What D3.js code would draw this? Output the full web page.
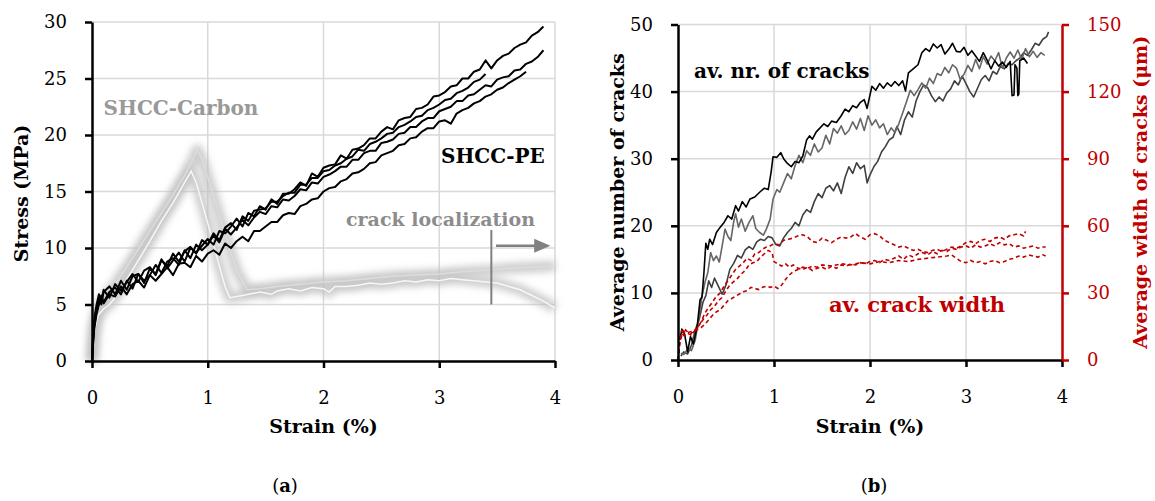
<!DOCTYPE html>
<html lang="en">
<head>
<meta charset="UTF-8">
<title>SHCC stress-strain and crack development</title>
<script src="https://d3js.org/d3.v7.min.js"></script>
<style>
  body { margin: 0; background: #fff; }
  svg { display: block; font-family: "DejaVu Serif", serif; }
</style>
</head>
<body>
<svg id="chart" width="1155" height="501"></svg>
<script>
// ---------- data (a): stress-strain ----------
const strainTicks = [0, 1, 2, 3, 4];
const stressTicks = [0, 5, 10, 15, 20, 25, 30];

const peStrain = [0, 0.01, 0.02, 0.04, 0.06, 0.08, 0.1, 0.15, 0.2, 0.25, 0.3, 0.35, 0.4, 0.45, 0.5, 0.55,
  0.6, 0.65, 0.7, 0.75, 0.8, 0.85, 0.9, 0.95, 1.0, 1.05, 1.1, 1.15, 1.2, 1.25, 1.3, 1.35, 1.4, 1.45,
  1.5, 1.55, 1.6, 1.65, 1.7, 1.75, 1.8, 1.85, 1.9, 1.95, 2.0, 2.05, 2.1, 2.15, 2.2, 2.25, 2.3, 2.35,
  2.4, 2.45, 2.5, 2.55, 2.6, 2.65, 2.7, 2.75, 2.8, 2.85, 2.9, 2.95, 3.0, 3.05, 3.1, 3.15, 3.2, 3.25,
  3.3, 3.35, 3.4, 3.45, 3.5, 3.55, 3.6, 3.65, 3.7, 3.75, 3.8, 3.85, 3.9];

const peA = [0, 2.0, 3.4, 4.6, 5.6, 5.0, 6.1, 6.6, 5.9, 7.1, 6.3, 7.5, 7.7, 6.9, 8.2, 7.7,
  9.0, 8.2, 8.9, 9.6, 8.8, 10.0, 9.6, 10.2, 10.8, 10.3, 11.5, 11.3, 11.9, 12.6, 11.9, 13.1, 12.8, 13.7,
  13.4, 14.3, 13.9, 14.8, 14.8, 15.2, 15.8, 15.5, 16.6, 16.3, 17.1, 17.3, 17.4, 18.2, 17.9, 18.7, 18.8, 19.1,
  19.7, 19.7, 20.3, 20.7, 20.5, 21.3, 21.5, 21.6, 22.3, 22.4, 22.7, 23.4, 23.5, 23.8, 24.3, 24.4, 25.0, 25.0,
  25.6, 25.8, 26.6, 25.9, 26.6, 27.0, 27.2, 27.7, 28.0, 28.2, 28.8, 29.1, 29.6];

const peB = [0, 1.6, 2.9, 4.2, 5.0, 5.8, 5.2, 6.1, 6.5, 5.9, 7.1, 6.4, 7.7, 7.1, 7.6, 8.5,
  7.8, 8.8, 9.1, 8.5, 9.8, 9.1, 10.3, 9.8, 10.3, 11.1, 10.5, 11.7, 11.2, 11.8, 12.5, 12.0, 12.7, 13.2,
  13.0, 13.7, 13.6, 14.3, 14.2, 14.6, 15.2, 15.1, 15.8, 15.7, 16.3, 16.5, 16.8, 17.2, 17.2, 17.8, 17.8, 18.4,
  18.6, 18.6, 19.3, 19.4, 19.6, 20.1, 20.2, 20.7, 20.7, 21.2, 21.5, 21.5, 22.1, 22.3, 22.5, 23.0, 23.0, 23.5,
  23.6, 24.0, 24.4, 24.3, 24.9, 25.1, 25.2, 25.7, 25.8, 26.3, 26.5, 26.9, 27.5];

const peC = [0, 2.4, 3.8, 5.0, 5.9, 5.2, 6.3, 5.6, 6.8, 6.2, 7.0, 7.7, 7.0, 8.0, 8.3, 7.6,
  8.9, 8.4, 9.5, 8.8, 9.7, 10.1, 9.5, 10.7, 10.3, 11.3, 10.7, 11.8, 12.2, 11.6, 12.8, 12.4, 13.3, 13.4,
  13.5, 14.1, 14.1, 14.6, 14.9, 14.9, 15.6, 15.6, 16.2, 16.2, 16.8, 16.9, 17.3, 17.5, 17.9, 18.1, 18.7, 18.6,
  19.2, 19.4, 19.7, 20.1, 20.2, 20.7, 20.9, 21.2, 21.6, 21.7, 22.2, 22.4, 22.7, 23.1, 23.2, 23.7, 23.9, 24.2,
  24.7, 24.9, 25.4];

const peD = [0, 1.8, 3.1, 4.4, 5.1, 5.7, 5.1, 5.9, 5.7, 6.6, 5.9, 6.8, 7.1, 6.5, 7.6, 7.1,
  7.7, 8.3, 7.6, 8.6, 8.7, 8.3, 9.3, 8.8, 9.5, 9.8, 9.4, 10.4, 10.0, 10.6, 11.0, 10.6, 11.5, 11.5,
  11.9, 12.3, 12.3, 12.9, 13.1, 13.0, 13.7, 13.9, 14.3, 14.4, 15.0, 15.3, 15.4, 15.9, 16.1, 16.6, 16.7, 17.0,
  17.5, 17.6, 18.2, 18.4, 18.6, 19.1, 19.2, 19.7, 19.8, 20.3, 20.6, 20.6, 21.2, 21.3, 21.0, 21.9, 22.2, 22.4,
  22.8, 23.0, 23.4, 23.6, 24.0, 24.2, 24.6, 24.9, 25.2, 25.6];

// SHCC-Carbon, [strain, stress]
const carbon1 = [[0, 0], [0.02, 3.0], [0.05, 4.6], [0.1, 5.4], [0.2, 6.8], [0.3, 8.3], [0.4, 9.9], [0.5, 11.5],
  [0.6, 13.1], [0.7, 14.7], [0.8, 16.4], [0.86, 17.6], [0.91, 18.7], [0.96, 17.6], [1.05, 14.6], [1.15, 11.2],
  [1.25, 8.0], [1.34, 6.3], [1.45, 6.4], [1.6, 6.6], [1.8, 6.8], [2.0, 7.0], [2.2, 7.1], [2.4, 7.3], [2.6, 7.5],
  [2.8, 7.6], [3.0, 7.7], [3.2, 7.9], [3.4, 8.0], [3.6, 8.2], [3.8, 8.3], [4.0, 8.4]];

const carbon2 = [[0, 0], [0.02, 2.6], [0.05, 4.0], [0.1, 4.6], [0.15, 5.0], [0.2, 5.6], [0.3, 7.2], [0.4, 8.9],
  [0.5, 10.6], [0.6, 12.4], [0.7, 14.0], [0.8, 15.8], [0.857, 16.8], [0.9, 15.8], [0.95, 14.0], [1.0, 12.2],
  [1.05, 10.3], [1.1, 8.4], [1.15, 6.6], [1.19, 5.6], [1.3, 5.8], [1.45, 6.1], [1.55, 5.9], [1.6, 6.2],
  [1.7, 6.4], [1.8, 6.2], [1.9, 6.5], [2.0, 6.4], [2.05, 6.1], [2.1, 6.6], [2.2, 6.6], [2.3, 6.7], [2.4, 6.9],
  [2.5, 6.8], [2.6, 6.9], [2.7, 7.1], [2.8, 7.0], [2.9, 7.2], [3.0, 7.1], [3.1, 7.3], [3.2, 7.2], [3.3, 7.1],
  [3.4, 7.0], [3.5, 6.9], [3.6, 6.6], [3.7, 6.3], [3.8, 5.8], [3.9, 5.3], [4.0, 4.7]];

// ---------- data (b): number and width of cracks ----------
const crackTicks = [0, 10, 20, 30, 40, 50];
const widthTicks = [0, 30, 60, 90, 120, 150];

// [strain, number of cracks]
const cracks1 = [[0.02, 3.0], [0.04, 4.6], [0.07, 3.8], [0.1, 1.2], [0.13, 3.5], [0.16, 2.4], [0.2, 5.0],
  [0.23, 9.0], [0.25, 9.4], [0.27, 13], [0.29, 17.4], [0.31, 16.5], [0.33, 18.0], [0.36, 17.2], [0.4, 19.0],
  [0.44, 19.8], [0.48, 20.5], [0.52, 21.5], [0.56, 21.0], [0.6, 23.0], [0.63, 22.2], [0.67, 23.6], [0.71, 22.8],
  [0.75, 24.0], [0.8, 24.3], [0.85, 25.0], [0.9, 25.6], [0.94, 25.4], [0.97, 28.0], [0.99, 30.3], [1.03, 30.2],
  [1.07, 30.9], [1.1, 30.0], [1.14, 29.3], [1.18, 28.8], [1.22, 29.6], [1.26, 29.4], [1.3, 30.4], [1.34, 32.8],
  [1.37, 33.4], [1.4, 32.9], [1.44, 34.0], [1.48, 34.6], [1.52, 35.2], [1.56, 34.8], [1.6, 35.6], [1.65, 35.4],
  [1.7, 36.4], [1.74, 37.4], [1.78, 37.0], [1.82, 37.9], [1.86, 37.6], [1.9, 38.4], [1.94, 38.8], [1.97, 37.5],
  [2.0, 39.5], [2.02, 40.8], [2.06, 40.2], [2.1, 41.2], [2.14, 40.5], [2.18, 41.3], [2.22, 40.8], [2.26, 41.5],
  [2.3, 40.9], [2.34, 41.6], [2.37, 40.1], [2.4, 42.8], [2.45, 43.4], [2.5, 44.0], [2.54, 45.8], [2.58, 46.4],
  [2.62, 46.0], [2.66, 47.1], [2.7, 46.5], [2.74, 47.0], [2.78, 45.6], [2.82, 46.3], [2.86, 47.2], [2.9, 46.0],
  [2.94, 45.9], [2.98, 46.6], [3.02, 45.4], [3.06, 46.1], [3.1, 45.3], [3.14, 44.5], [3.18, 45.8], [3.22, 44.7],
  [3.26, 43.4], [3.3, 44.6], [3.34, 43.8], [3.38, 44.4], [3.42, 43.6], [3.46, 44.5], [3.48, 39.4], [3.5, 39.5],
  [3.51, 44.0], [3.53, 43.5], [3.54, 39.4], [3.55, 39.6], [3.56, 44.6], [3.6, 45.0], [3.64, 44.2]];

const cracks2 = [[0.03, 1.0], [0.06, 0.8], [0.1, 1.6], [0.14, 1.4], [0.18, 3.0], [0.22, 6.5], [0.25, 9.5],
  [0.28, 11.5], [0.31, 13.0], [0.34, 16.0], [0.37, 14.8], [0.4, 15.5], [0.43, 14.6], [0.46, 17.0], [0.49, 19.5],
  [0.52, 18.4], [0.55, 17.8], [0.58, 20.6], [0.6, 21.8], [0.63, 19.8], [0.66, 21.0], [0.7, 19.2], [0.74, 20.5],
  [0.78, 21.5], [0.81, 19.6], [0.85, 19.0], [0.89, 18.6], [0.92, 19.5], [0.96, 21.0], [0.99, 24.0], [1.03, 25.4],
  [1.06, 25.0], [1.1, 26.4], [1.14, 27.8], [1.18, 27.0], [1.22, 29.0], [1.26, 30.5], [1.3, 29.4], [1.34, 31.2],
  [1.38, 30.5], [1.42, 32.2], [1.46, 31.0], [1.5, 31.6], [1.54, 33.5], [1.58, 32.2], [1.62, 34.5], [1.66, 33.8],
  [1.7, 34.9], [1.74, 33.6], [1.78, 34.2], [1.82, 35.5], [1.86, 34.4], [1.9, 36.0], [1.94, 34.2], [1.98, 36.4],
  [2.02, 35.0], [2.06, 35.8], [2.1, 34.6], [2.14, 35.2], [2.18, 33.6], [2.22, 34.6], [2.26, 33.9], [2.3, 35.2],
  [2.34, 36.8], [2.38, 38.5], [2.42, 40.2], [2.46, 39.4], [2.5, 40.3], [2.54, 41.3], [2.58, 40.5], [2.62, 42.0],
  [2.66, 41.2], [2.7, 42.7], [2.74, 42.4], [2.78, 43.6], [2.82, 42.8], [2.86, 44.0], [2.9, 43.5], [2.94, 41.8],
  [2.98, 42.6], [3.02, 43.9], [3.06, 43.0], [3.1, 44.8], [3.14, 43.4], [3.18, 45.2], [3.22, 44.1], [3.26, 45.3],
  [3.3, 44.6], [3.34, 45.8], [3.38, 43.5], [3.42, 45.0], [3.46, 45.9], [3.5, 45.0], [3.54, 46.2], [3.58, 44.8],
  [3.62, 46.4], [3.66, 45.2], [3.7, 46.0], [3.74, 45.1], [3.78, 45.8], [3.82, 45.4]];

const cracks3 = [[0.03, 0.6], [0.06, 1.2], [0.1, 0.9], [0.14, 2.2], [0.18, 4.5], [0.22, 6.0], [0.26, 8.6],
  [0.29, 9.6], [0.32, 11.8], [0.35, 10.8], [0.38, 12.2], [0.42, 11.0], [0.46, 9.8], [0.5, 11.2], [0.54, 13.5],
  [0.58, 14.4], [0.62, 15.6], [0.66, 15.2], [0.7, 16.4], [0.74, 16.9], [0.78, 16.5], [0.82, 17.6], [0.86, 18.0],
  [0.9, 17.8], [0.94, 18.4], [0.98, 18.2], [1.02, 17.2], [1.06, 17.0], [1.1, 18.2], [1.14, 19.0], [1.18, 19.6],
  [1.22, 20.5], [1.26, 20.0], [1.3, 21.6], [1.34, 22.4], [1.38, 22.0], [1.42, 23.6], [1.46, 24.8], [1.5, 24.2],
  [1.54, 25.6], [1.58, 26.0], [1.62, 25.2], [1.66, 26.4], [1.7, 24.8], [1.74, 27.2], [1.78, 28.8], [1.82, 27.8],
  [1.86, 29.4], [1.9, 28.5], [1.94, 29.0], [1.97, 26.4], [2.0, 27.6], [2.04, 28.8], [2.08, 29.6], [2.12, 31.0],
  [2.16, 31.8], [2.2, 32.8], [2.24, 33.2], [2.28, 34.8], [2.32, 33.6], [2.36, 35.8], [2.4, 37.0], [2.44, 36.2],
  [2.48, 38.6], [2.52, 40.0], [2.56, 41.0], [2.6, 40.6], [2.64, 39.4], [2.68, 38.5], [2.72, 39.2], [2.76, 38.6],
  [2.8, 39.8], [2.84, 40.4], [2.88, 41.6], [2.92, 41.0], [2.96, 42.3], [3.0, 41.2], [3.04, 40.0], [3.08, 39.2],
  [3.12, 40.5], [3.16, 41.8], [3.2, 42.4], [3.24, 41.6], [3.28, 43.0], [3.32, 42.6], [3.36, 43.8], [3.4, 43.4],
  [3.44, 44.2], [3.48, 44.0], [3.52, 44.6], [3.56, 45.0], [3.6, 45.8], [3.64, 45.4], [3.68, 46.2], [3.72, 47.2],
  [3.76, 46.9], [3.8, 47.8], [3.84, 48.2], [3.86, 48.9]];

// [strain, crack width in um]
const width1 = [[0, 0], [0.02, 10], [0.04, 13], [0.06, 12], [0.08, 13.5], [0.1, 12.5], [0.13, 11.5], [0.16, 13.0],
  [0.2, 14.0], [0.24, 17.0], [0.28, 21.0], [0.32, 23.5], [0.36, 26.0], [0.4, 28.5], [0.44, 30.0], [0.48, 33.0],
  [0.52, 35.5], [0.56, 38.0], [0.6, 40.5], [0.64, 42.0], [0.68, 43.5], [0.72, 45.5], [0.76, 44.5], [0.8, 47.5],
  [0.84, 48.0], [0.88, 49.5], [0.92, 50.5], [0.96, 51.0], [1.0, 52.0], [1.05, 51.5], [1.1, 53.5], [1.15, 54.0],
  [1.2, 54.5], [1.25, 55.5], [1.3, 56.0], [1.35, 55.0], [1.4, 53.0], [1.45, 52.5], [1.5, 54.5], [1.55, 53.5],
  [1.6, 52.5], [1.65, 54.0], [1.7, 55.0], [1.75, 54.5], [1.8, 55.0], [1.85, 56.5], [1.9, 55.0], [1.95, 54.0],
  [2.0, 56.0], [2.05, 56.5], [2.1, 55.5], [2.15, 53.5], [2.2, 52.5], [2.25, 51.5], [2.3, 50.5], [2.35, 51.0],
  [2.4, 50.0], [2.45, 49.0], [2.5, 49.5], [2.55, 48.5], [2.6, 48.0], [2.65, 49.0], [2.7, 49.5], [2.75, 48.5],
  [2.8, 49.5], [2.85, 50.5], [2.9, 50.0], [2.95, 51.0], [3.0, 52.5], [3.05, 53.0], [3.1, 52.0], [3.15, 53.5],
  [3.2, 54.0], [3.25, 53.0], [3.3, 54.5], [3.35, 55.0], [3.4, 54.0], [3.45, 55.5], [3.5, 56.0], [3.55, 56.5],
  [3.6, 55.5], [3.62, 57.5]];

const width2 = [[0, 0], [0.02, 9], [0.04, 12], [0.06, 11], [0.1, 12], [0.14, 11], [0.18, 13.5], [0.22, 15.5],
  [0.26, 18.0], [0.3, 20.0], [0.34, 22.5], [0.38, 24.0], [0.42, 26.5], [0.46, 28.0], [0.5, 31.0], [0.54, 33.5],
  [0.58, 35.0], [0.62, 36.5], [0.66, 38.5], [0.7, 40.0], [0.74, 42.5], [0.78, 43.5], [0.82, 44.0], [0.86, 46.0],
  [0.9, 47.5], [0.94, 49.0], [0.98, 48.0], [1.0, 44.0], [1.04, 43.0], [1.08, 42.0], [1.12, 43.0], [1.16, 41.5],
  [1.2, 42.5], [1.25, 41.0], [1.3, 40.5], [1.35, 41.5], [1.4, 40.0], [1.45, 41.0], [1.5, 41.5], [1.55, 40.5],
  [1.6, 42.0], [1.65, 41.0], [1.7, 42.5], [1.75, 42.0], [1.8, 43.0], [1.85, 42.5], [1.9, 43.5], [1.95, 43.0],
  [2.0, 44.0], [2.05, 44.5], [2.1, 43.5], [2.15, 45.0], [2.2, 44.5], [2.25, 45.5], [2.3, 46.5], [2.35, 45.0],
  [2.4, 47.0], [2.45, 46.0], [2.5, 47.5], [2.55, 48.0], [2.6, 47.0], [2.65, 48.5], [2.7, 47.5], [2.75, 49.0],
  [2.8, 48.5], [2.85, 50.0], [2.9, 49.5], [2.95, 50.5], [3.0, 51.0], [3.05, 50.0], [3.1, 51.5], [3.15, 50.5],
  [3.2, 51.0], [3.25, 52.0], [3.3, 51.0], [3.35, 52.5], [3.4, 51.5], [3.45, 52.0], [3.5, 50.5], [3.55, 51.0],
  [3.6, 50.0], [3.65, 50.5], [3.7, 51.0], [3.75, 50.0], [3.8, 50.5], [3.83, 50.5]];

const width3 = [[0, 0], [0.02, 8], [0.04, 11], [0.06, 13], [0.08, 12], [0.12, 12.5], [0.16, 13.0], [0.2, 13.5],
  [0.24, 14.5], [0.28, 16.0], [0.32, 18.0], [0.36, 20.0], [0.4, 21.5], [0.44, 22.5], [0.48, 24.5], [0.52, 26.5],
  [0.56, 27.5], [0.6, 28.5], [0.64, 29.5], [0.68, 30.5], [0.72, 31.0], [0.76, 32.5], [0.8, 32.0], [0.84, 31.5],
  [0.88, 32.5], [0.92, 33.0], [0.96, 32.5], [1.0, 33.0], [1.04, 32.0], [1.08, 33.5], [1.12, 36.0], [1.16, 38.0],
  [1.2, 39.5], [1.25, 40.5], [1.3, 41.5], [1.35, 41.0], [1.4, 42.0], [1.45, 41.5], [1.5, 42.5], [1.6, 42.0],
  [1.7, 43.0], [1.8, 42.5], [1.9, 43.5], [2.0, 43.0], [2.1, 44.0], [2.2, 43.5], [2.3, 44.5], [2.4, 44.0],
  [2.5, 45.0], [2.6, 45.5], [2.7, 46.0], [2.8, 46.5], [2.85, 47.0], [2.9, 45.5], [2.95, 44.0], [3.0, 43.5],
  [3.05, 44.5], [3.1, 43.5], [3.15, 44.0], [3.2, 43.0], [3.25, 44.0], [3.3, 44.5], [3.35, 43.5], [3.4, 44.0],
  [3.45, 45.0], [3.5, 45.5], [3.55, 46.5], [3.6, 46.0], [3.65, 47.0], [3.7, 46.5], [3.75, 46.0], [3.8, 47.0],
  [3.83, 46.5]];

// ---------- drawing ----------
const svg = d3.select("#chart");
const gridColor = "#d9d9d9";
const red = "#c00000";
const grey = "#8c8c8c";

const defs = svg.append("defs");
defs.append("filter")
  .attr("id", "soft")
  .attr("filterUnits", "userSpaceOnUse")
  .attr("x", 0).attr("y", 0).attr("width", 1155).attr("height", 501)
  .append("feGaussianBlur").attr("stdDeviation", 3.5);

function styleAxis(g, color) {
  g.select(".domain").attr("stroke", color).attr("stroke-width", 2.5);
  g.selectAll(".tick line").attr("stroke", color).attr("stroke-width", 2.5);
  g.selectAll(".tick text").attr("fill", color).attr("font-size", 18)
    .attr("font-family", "DejaVu Serif");
}

// ===== panel (a) =====
const xA = d3.scaleLinear().domain([0, 4]).range([92, 555]);
const yA = d3.scaleLinear().domain([0, 30]).range([361, 22]);
const gA = svg.append("g");

gA.append("g").selectAll("line").data(stressTicks.slice(1)).join("line")
  .attr("x1", xA(0)).attr("x2", xA(4))
  .attr("y1", d => yA(d)).attr("y2", d => yA(d))
  .attr("stroke", gridColor).attr("stroke-width", 1.5);
gA.append("g").selectAll("line").data(strainTicks.slice(1)).join("line")
  .attr("x1", d => xA(d)).attr("x2", d => xA(d))
  .attr("y1", yA(0)).attr("y2", yA(30))
  .attr("stroke", gridColor).attr("stroke-width", 1.5);

const lineA = d3.line().x(d => xA(d[0])).y(d => yA(d[1]));

// blurred carbon bands
[carbon1, carbon2].forEach(c => {
  gA.append("path").datum(c).attr("d", lineA)
    .attr("fill", "none").attr("stroke", "#bdbdbd").attr("stroke-width", 11)
    .attr("stroke-opacity", 0.75).attr("stroke-linejoin", "round")
    .attr("filter", "url(#soft)");
});
gA.append("path").datum(carbon1).attr("d", lineA)
  .attr("fill", "none").attr("stroke", "#dcdcdc").attr("stroke-width", 1.5);
gA.append("path").datum(carbon2).attr("d", lineA)
  .attr("fill", "none").attr("stroke", "#f7f7f7").attr("stroke-width", 1.5);

// SHCC-PE curves
[peA, peB, peC, peD].forEach(s => {
  const pts = s.map((v, i) => [peStrain[i], v]);
  gA.append("path").datum(pts).attr("d", lineA)
    .attr("fill", "none").attr("stroke", "#000").attr("stroke-width", 2)
    .attr("stroke-linejoin", "round");
});

// crack localization marker
gA.append("line")
  .attr("x1", xA(3.45)).attr("x2", xA(3.45))
  .attr("y1", yA(11.6)).attr("y2", yA(5.0))
  .attr("stroke", "#808080").attr("stroke-width", 2);
gA.append("line")
  .attr("x1", xA(3.49)).attr("x2", xA(3.83))
  .attr("y1", yA(10.2)).attr("y2", yA(10.2))
  .attr("stroke", "#808080").attr("stroke-width", 2.5);
gA.append("path")
  .attr("d", `M${xA(3.82)},${yA(10.2) - 7}L${xA(3.96)},${yA(10.2)}L${xA(3.82)},${yA(10.2) + 7}Z`)
  .attr("fill", "#808080");

// axes
const axAy = gA.append("g").attr("transform", `translate(${xA(0)},0)`)
  .call(d3.axisLeft(yA).tickValues(stressTicks).tickSize(7).tickSizeOuter(0).tickPadding(18));
styleAxis(axAy, "#000");
const axAx = gA.append("g").attr("transform", `translate(0,${yA(0)})`)
  .call(d3.axisBottom(xA).tickValues(strainTicks).tickFormat(d3.format("d"))
    .tickSize(7).tickSizeOuter(0).tickPadding(23));
styleAxis(axAx, "#000");

gA.append("text").attr("x", xA(2)).attr("y", 433).attr("text-anchor", "middle")
  .attr("font-size", 19).attr("font-weight", "bold").text("Strain (%)");
gA.append("text").attr("transform", `translate(28,${(yA(0) + yA(30)) / 2 + 2}) rotate(-90)`)
  .attr("text-anchor", "middle").attr("font-size", 19).attr("font-weight", "bold")
  .text("Stress (MPa)");

gA.append("text").attr("x", xA(0.1)).attr("y", 115).attr("font-size", 20)
  .attr("font-weight", "bold").attr("fill", "#999").text("SHCC-Carbon");
gA.append("text").attr("x", 441).attr("y", 163).attr("font-size", 20)
  .attr("font-weight", "bold").attr("fill", "#000").text("SHCC-PE");
gA.append("text").attr("x", 346).attr("y", 226).attr("font-size", 19)
  .attr("font-weight", "bold").attr("fill", grey).text("crack localization");

// ===== panel (b) =====
const xB = d3.scaleLinear().domain([0, 4]).range([678, 1062]);
const yB = d3.scaleLinear().domain([0, 50]).range([360, 24.5]);
const yW = d3.scaleLinear().domain([0, 150]).range([360, 24.5]);
const gB = svg.append("g");

gB.append("g").selectAll("line").data(crackTicks.slice(1)).join("line")
  .attr("x1", xB(0)).attr("x2", xB(4))
  .attr("y1", d => yB(d)).attr("y2", d => yB(d))
  .attr("stroke", gridColor).attr("stroke-width", 1.5);
gB.append("g").selectAll("line").data(strainTicks.slice(1, 4)).join("line")
  .attr("x1", d => xB(d)).attr("x2", d => xB(d))
  .attr("y1", yB(0)).attr("y2", yB(50))
  .attr("stroke", gridColor).attr("stroke-width", 1.5);

const lineN = d3.line().x(d => xB(d[0])).y(d => yB(d[1]));
const lineW = d3.line().x(d => xB(d[0])).y(d => yW(d[1]));

[[cracks3, "#404040"], [cracks2, "#666666"], [cracks1, "#000000"]].forEach(([c, col]) => {
  gB.append("path").datum(c).attr("d", lineN)
    .attr("fill", "none").attr("stroke", col).attr("stroke-width", 1.6)
    .attr("stroke-linejoin", "round");
});
[width1, width2, width3].forEach(w => {
  gB.append("path").datum(w).attr("d", lineW)
    .attr("fill", "none").attr("stroke", red).attr("stroke-width", 1.6)
    .attr("stroke-dasharray", "4,3");
});

const axBy = gB.append("g").attr("transform", `translate(${xB(0)},0)`)
  .call(d3.axisLeft(yB).tickValues(crackTicks).tickSize(7).tickSizeOuter(0).tickPadding(18));
styleAxis(axBy, "#000");
const axBx = gB.append("g").attr("transform", `translate(0,${yB(0)})`)
  .call(d3.axisBottom(xB).tickValues(strainTicks).tickFormat(d3.format("d"))
    .tickSize(7).tickSizeOuter(0).tickPadding(23));
styleAxis(axBx, "#000");
const axBw = gB.append("g").attr("transform", `translate(${xB(4)},0)`)
  .call(d3.axisRight(yW).tickValues(widthTicks).tickSize(7).tickSizeOuter(0).tickPadding(18));
styleAxis(axBw, red);

gB.append("text").attr("x", xB(2)).attr("y", 433).attr("text-anchor", "middle")
  .attr("font-size", 19).attr("font-weight", "bold").text("Strain (%)");
gB.append("text").attr("transform", `translate(624,${(yB(0) + yB(50)) / 2}) rotate(-90)`)
  .attr("text-anchor", "middle").attr("font-size", 19).attr("font-weight", "bold")
  .text("Average number of cracks");
gB.append("text").attr("transform", `translate(1147,${(yB(0) + yB(50)) / 2}) rotate(-90)`)
  .attr("text-anchor", "middle").attr("font-size", 19).attr("font-weight", "bold")
  .attr("fill", red).text("Average width of cracks (μm)");

gB.append("text").attr("x", 694).attr("y", 78).attr("font-size", 20)
  .attr("font-weight", "bold").text("av. nr. of cracks");
gB.append("text").attr("x", 829).attr("y", 312).attr("font-size", 21)
  .attr("font-weight", "bold").attr("fill", red).text("av. crack width");

// panel captions
[["a", 285], ["b", 874]].forEach(([t, x]) => {
  const cap = svg.append("text").attr("x", x).attr("y", 492)
    .attr("text-anchor", "middle").attr("font-size", 18);
  cap.append("tspan").text("(");
  cap.append("tspan").attr("font-weight", "bold").text(t);
  cap.append("tspan").text(")");
});
</script>
</body>
</html>
